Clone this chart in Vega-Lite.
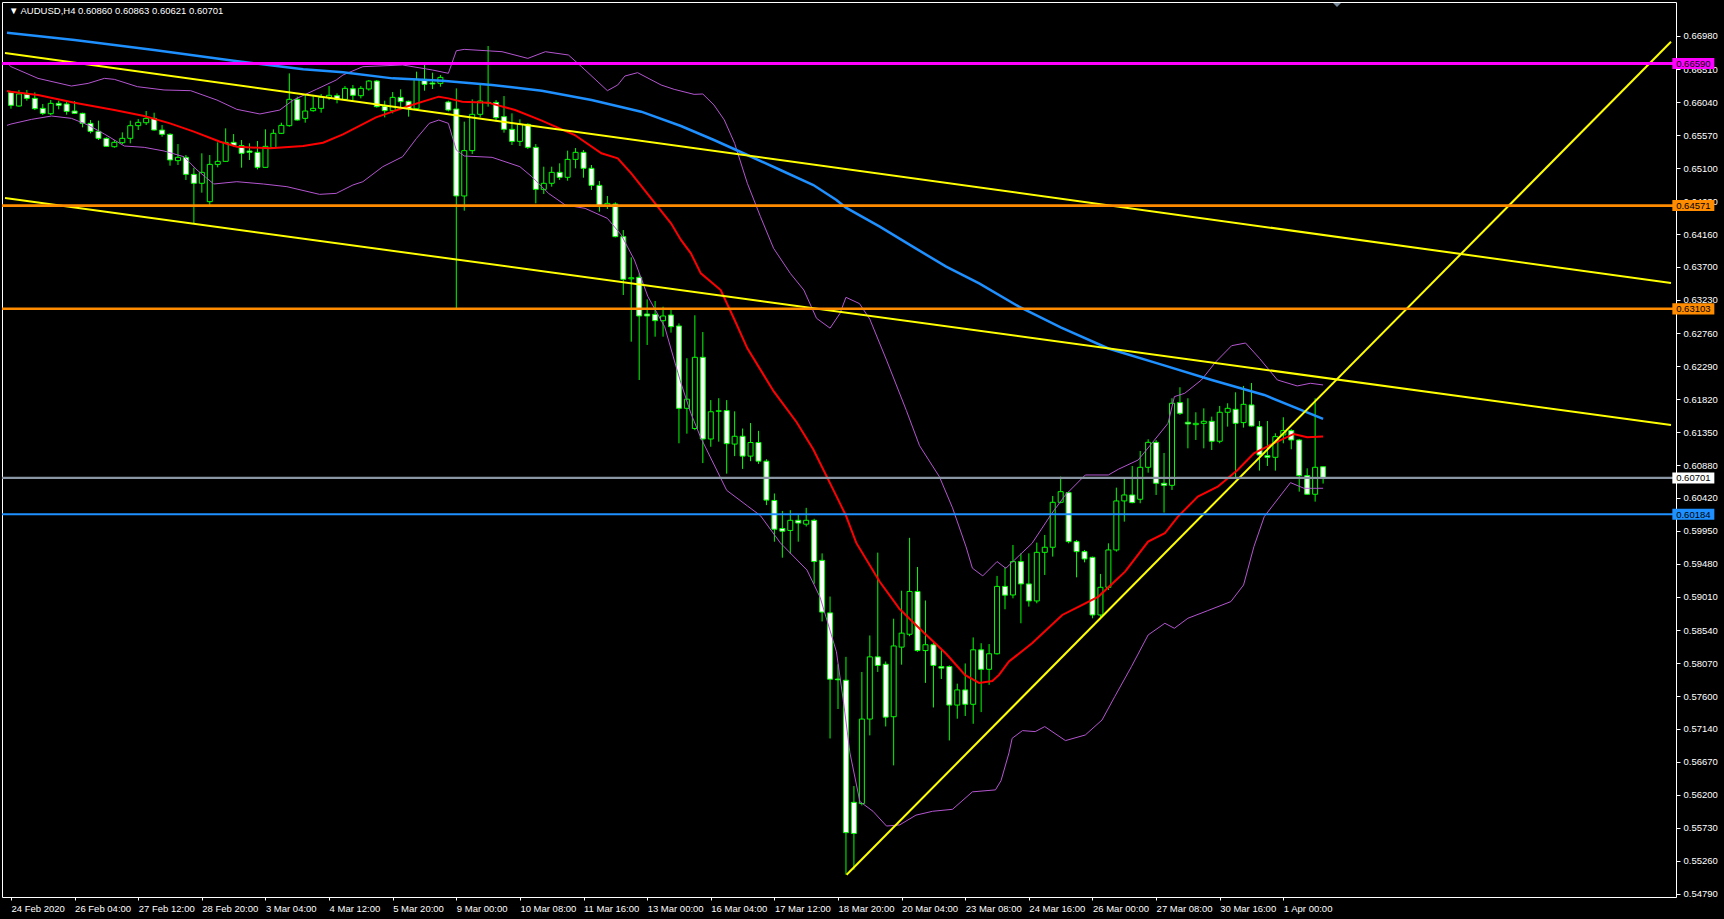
{
"$schema": "https://vega.github.io/schema/vega-lite/v6.json",
"width": 1674, "height": 895,
"autosize": {"type": "none"},
"padding": {"left": 2, "top": 2, "right": 48, "bottom": 22},
"background": "#000000",
"config": {"view": {"stroke": "#ffffff", "strokeWidth": 1}, "font": "Liberation Sans",
"axis": {"labelOverlap": false, "labelFlush": false, "labelBound": false, "grid": false, "domain": false, "tickColor": "#ffffff", "labelColor": "#ffffff", "labelFont": "Liberation Sans", "labelFontSize": 9.5, "title": null}},
"title": {"text": "▼  AUDUSD,H4  0.60860 0.60863 0.60621 0.60701", "anchor": "start", "frame": "group", "orient": "top", "offset": -13, "dx": 7, "color": "#ffffff", "fontSize": 9.5, "fontWeight": "normal", "font": "Liberation Sans"},
"datasets": {
"candles": [
{"i":0,"o":0.66175,"h":0.66198,"l":0.65947,"c":0.65995},
{"i":1,"o":0.65985,"h":0.66213,"l":0.65976,"c":0.66156},
{"i":2,"o":0.66151,"h":0.66213,"l":0.66061,"c":0.66094},
{"i":3,"o":0.66094,"h":0.66179,"l":0.65928,"c":0.65947},
{"i":4,"o":0.65952,"h":0.66014,"l":0.65857,"c":0.65881},
{"i":5,"o":0.65876,"h":0.6607,"l":0.65857,"c":0.66023},
{"i":6,"o":0.66023,"h":0.66061,"l":0.65938,"c":0.65995},
{"i":7,"o":0.66014,"h":0.66061,"l":0.65862,"c":0.65909},
{"i":8,"o":0.65914,"h":0.66056,"l":0.65872,"c":0.65881},
{"i":9,"o":0.65881,"h":0.6589,"l":0.65682,"c":0.65739},
{"i":10,"o":0.65739,"h":0.65786,"l":0.65597,"c":0.65625},
{"i":11,"o":0.65625,"h":0.65777,"l":0.65502,"c":0.65526},
{"i":12,"o":0.65526,"h":0.6554,"l":0.65407,"c":0.65412},
{"i":13,"o":0.65407,"h":0.65502,"l":0.65393,"c":0.65469},
{"i":14,"o":0.65464,"h":0.65611,"l":0.65445,"c":0.65526},
{"i":15,"o":0.65526,"h":0.65777,"l":0.65455,"c":0.65706},
{"i":16,"o":0.65706,"h":0.658,"l":0.65644,"c":0.65753},
{"i":17,"o":0.65748,"h":0.65914,"l":0.65715,"c":0.6581},
{"i":18,"o":0.6581,"h":0.6589,"l":0.65635,"c":0.65644},
{"i":19,"o":0.65644,"h":0.65715,"l":0.65549,"c":0.65583},
{"i":20,"o":0.65583,"h":0.65597,"l":0.65137,"c":0.65218},
{"i":21,"o":0.65209,"h":0.65445,"l":0.65147,"c":0.65256},
{"i":22,"o":0.65256,"h":0.65289,"l":0.64934,"c":0.65014},
{"i":23,"o":0.65014,"h":0.65109,"l":0.64318,"c":0.64887},
{"i":24,"o":0.64887,"h":0.65313,"l":0.64754,"c":0.65043},
{"i":25,"o":0.64626,"h":0.65289,"l":0.64579,"c":0.65156},
{"i":26,"o":0.65156,"h":0.65469,"l":0.65114,"c":0.65199},
{"i":27,"o":0.65199,"h":0.65668,"l":0.65194,"c":0.65469},
{"i":28,"o":0.65469,"h":0.65587,"l":0.65407,"c":0.65426},
{"i":29,"o":0.65422,"h":0.65502,"l":0.65109,"c":0.65313},
{"i":30,"o":0.65346,"h":0.65455,"l":0.65218,"c":0.65327},
{"i":31,"o":0.65327,"h":0.65488,"l":0.65085,"c":0.65114},
{"i":32,"o":0.65114,"h":0.65654,"l":0.65109,"c":0.65412},
{"i":33,"o":0.65393,"h":0.65654,"l":0.65384,"c":0.65597},
{"i":34,"o":0.65597,"h":0.65748,"l":0.65587,"c":0.6571},
{"i":35,"o":0.65706,"h":0.66449,"l":0.65692,"c":0.6608},
{"i":36,"o":0.6608,"h":0.66118,"l":0.65777,"c":0.65786},
{"i":37,"o":0.6581,"h":0.66156,"l":0.65748,"c":0.65914},
{"i":38,"o":0.65919,"h":0.66142,"l":0.65905,"c":0.65952},
{"i":39,"o":0.65952,"h":0.66156,"l":0.6589,"c":0.66108},
{"i":40,"o":0.66108,"h":0.66269,"l":0.6607,"c":0.66137},
{"i":41,"o":0.66132,"h":0.66165,"l":0.66023,"c":0.6608},
{"i":42,"o":0.6608,"h":0.66269,"l":0.6607,"c":0.66236},
{"i":43,"o":0.66231,"h":0.66284,"l":0.6607,"c":0.66137},
{"i":44,"o":0.66132,"h":0.66269,"l":0.66094,"c":0.66236},
{"i":45,"o":0.66227,"h":0.66355,"l":0.66203,"c":0.6634},
{"i":46,"o":0.6634,"h":0.66355,"l":0.65962,"c":0.65976},
{"i":47,"o":0.6598,"h":0.66061,"l":0.65824,"c":0.65919},
{"i":48,"o":0.65919,"h":0.66184,"l":0.65881,"c":0.66108},
{"i":49,"o":0.66108,"h":0.66222,"l":0.65966,"c":0.66047},
{"i":50,"o":0.66052,"h":0.66061,"l":0.65834,"c":0.65947},
{"i":51,"o":0.65947,"h":0.66473,"l":0.65938,"c":0.66364},
{"i":52,"o":0.66364,"h":0.66568,"l":0.66203,"c":0.66293},
{"i":53,"o":0.66312,"h":0.66459,"l":0.66227,"c":0.66298},
{"i":54,"o":0.66307,"h":0.66426,"l":0.6626,"c":0.66392},
{"i":55,"o":0.66042,"h":0.66061,"l":0.65909,"c":0.65928},
{"i":56,"o":0.65943,"h":0.66236,"l":0.63101,"c":0.64707},
{"i":57,"o":0.64707,"h":0.65763,"l":0.64498,"c":0.65351},
{"i":58,"o":0.65351,"h":0.6608,"l":0.65303,"c":0.65867},
{"i":59,"o":0.65867,"h":0.66307,"l":0.65824,"c":0.66056},
{"i":60,"o":0.66037,"h":0.66838,"l":0.65976,"c":0.66028},
{"i":61,"o":0.66037,"h":0.6607,"l":0.65763,"c":0.65819},
{"i":62,"o":0.65834,"h":0.66127,"l":0.65606,"c":0.65654},
{"i":63,"o":0.65654,"h":0.65881,"l":0.65431,"c":0.65483},
{"i":64,"o":0.65483,"h":0.65796,"l":0.65417,"c":0.65725},
{"i":65,"o":0.65725,"h":0.65739,"l":0.65374,"c":0.65398},
{"i":66,"o":0.65398,"h":0.65445,"l":0.64602,"c":0.64801},
{"i":67,"o":0.64801,"h":0.65123,"l":0.64735,"c":0.64887},
{"i":68,"o":0.64887,"h":0.65123,"l":0.64839,"c":0.65043},
{"i":69,"o":0.65043,"h":0.65171,"l":0.64934,"c":0.64972},
{"i":70,"o":0.64972,"h":0.65351,"l":0.64924,"c":0.65227},
{"i":71,"o":0.65227,"h":0.65388,"l":0.651,"c":0.65327},
{"i":72,"o":0.65327,"h":0.6536,"l":0.64967,"c":0.651},
{"i":73,"o":0.651,"h":0.65147,"l":0.64792,"c":0.64858},
{"i":74,"o":0.64858,"h":0.6492,"l":0.64484,"c":0.64569},
{"i":75,"o":0.64569,"h":0.64707,"l":0.64522,"c":0.64602},
{"i":76,"o":0.64593,"h":0.64616,"l":0.64119,"c":0.64129},
{"i":77,"o":0.64129,"h":0.64223,"l":0.633,"c":0.63523},
{"i":78,"o":0.6353,"h":0.63835,"l":0.62637,"c":0.63545},
{"i":79,"o":0.63551,"h":0.63608,"l":0.62092,"c":0.63002},
{"i":80,"o":0.6303,"h":0.63238,"l":0.6259,"c":0.63002},
{"i":81,"o":0.63025,"h":0.63215,"l":0.62708,"c":0.62935},
{"i":82,"o":0.62935,"h":0.63134,"l":0.62708,"c":0.63002},
{"i":83,"o":0.63016,"h":0.63111,"l":0.62765,"c":0.6285},
{"i":84,"o":0.6286,"h":0.62897,"l":0.61193,"c":0.6169},
{"i":85,"o":0.6169,"h":0.62402,"l":0.6133,"c":0.6182},
{"i":86,"o":0.61403,"h":0.63012,"l":0.6138,"c":0.62415},
{"i":87,"o":0.62415,"h":0.62774,"l":0.60912,"c":0.61254},
{"i":88,"o":0.61254,"h":0.61807,"l":0.61144,"c":0.61641},
{"i":89,"o":0.61648,"h":0.61834,"l":0.61216,"c":0.61655},
{"i":90,"o":0.61658,"h":0.61807,"l":0.60762,"c":0.61188},
{"i":91,"o":0.61182,"h":0.61647,"l":0.61011,"c":0.61293},
{"i":92,"o":0.61293,"h":0.61403,"l":0.60829,"c":0.61011},
{"i":93,"o":0.61011,"h":0.61481,"l":0.60939,"c":0.61204},
{"i":94,"o":0.61204,"h":0.6137,"l":0.609,"c":0.60939},
{"i":95,"o":0.60939,"h":0.60967,"l":0.60315,"c":0.60386},
{"i":96,"o":0.60381,"h":0.6048,"l":0.59795,"c":0.59972},
{"i":97,"o":0.59983,"h":0.60232,"l":0.59568,"c":0.59944},
{"i":98,"o":0.59955,"h":0.60243,"l":0.59624,"c":0.60099},
{"i":99,"o":0.60099,"h":0.60176,"l":0.59795,"c":0.6006},
{"i":100,"o":0.60044,"h":0.60276,"l":0.60011,"c":0.60099},
{"i":101,"o":0.60099,"h":0.60121,"l":0.59198,"c":0.59513},
{"i":102,"o":0.5953,"h":0.59629,"l":0.58662,"c":0.58795},
{"i":103,"o":0.58784,"h":0.59016,"l":0.56999,"c":0.57841},
{"i":104,"o":0.57844,"h":0.58054,"l":0.57418,"c":0.57833},
{"i":105,"o":0.57827,"h":0.58159,"l":0.55064,"c":0.55661},
{"i":106,"o":0.56092,"h":0.56324,"l":0.55136,"c":0.5565},
{"i":107,"o":0.56075,"h":0.57944,"l":0.56048,"c":0.57275},
{"i":108,"o":0.57275,"h":0.58463,"l":0.57043,"c":0.58159},
{"i":109,"o":0.58159,"h":0.5964,"l":0.57944,"c":0.58037},
{"i":110,"o":0.58054,"h":0.58093,"l":0.5717,"c":0.57302},
{"i":111,"o":0.57308,"h":0.58701,"l":0.56617,"c":0.58314},
{"i":112,"o":0.58297,"h":0.59099,"l":0.58048,"c":0.58496},
{"i":113,"o":0.5848,"h":0.5985,"l":0.58452,"c":0.59088},
{"i":114,"o":0.59088,"h":0.59436,"l":0.58231,"c":0.58248},
{"i":115,"o":0.58248,"h":0.5896,"l":0.57789,"c":0.58331},
{"i":116,"o":0.58331,"h":0.58369,"l":0.5744,"c":0.58037},
{"i":117,"o":0.58021,"h":0.58259,"l":0.57844,"c":0.57999},
{"i":118,"o":0.58021,"h":0.58037,"l":0.56971,"c":0.57474},
{"i":119,"o":0.57474,"h":0.57778,"l":0.5728,"c":0.57689},
{"i":120,"o":0.57689,"h":0.58065,"l":0.57319,"c":0.57485},
{"i":121,"o":0.57485,"h":0.58435,"l":0.57208,"c":0.58259},
{"i":122,"o":0.58259,"h":0.58353,"l":0.57374,"c":0.57982},
{"i":123,"o":0.57982,"h":0.58341,"l":0.57761,"c":0.58203},
{"i":124,"o":0.58203,"h":0.59309,"l":0.58192,"c":0.5916},
{"i":125,"o":0.5916,"h":0.59436,"l":0.58835,"c":0.59035},
{"i":126,"o":0.59038,"h":0.59749,"l":0.58991,"c":0.59512},
{"i":127,"o":0.59512,"h":0.5963,"l":0.58636,"c":0.59195},
{"i":128,"o":0.59195,"h":0.5963,"l":0.58873,"c":0.58953},
{"i":129,"o":0.58953,"h":0.59782,"l":0.5892,"c":0.59644},
{"i":130,"o":0.59644,"h":0.59891,"l":0.59322,"c":0.59716},
{"i":131,"o":0.59716,"h":0.60445,"l":0.59583,"c":0.60355},
{"i":132,"o":0.60355,"h":0.6072,"l":0.60341,"c":0.60506},
{"i":133,"o":0.60492,"h":0.60506,"l":0.59772,"c":0.59796},
{"i":134,"o":0.59796,"h":0.5982,"l":0.59289,"c":0.59654},
{"i":135,"o":0.59654,"h":0.59678,"l":0.59502,"c":0.5955},
{"i":136,"o":0.59573,"h":0.59583,"l":0.58707,"c":0.58754},
{"i":137,"o":0.58754,"h":0.59337,"l":0.58721,"c":0.59147},
{"i":138,"o":0.59147,"h":0.59772,"l":0.59109,"c":0.59678},
{"i":139,"o":0.59678,"h":0.60563,"l":0.59654,"c":0.60374},
{"i":140,"o":0.60374,"h":0.60696,"l":0.6008,"c":0.60459},
{"i":141,"o":0.60459,"h":0.60871,"l":0.60341,"c":0.6035},
{"i":142,"o":0.60398,"h":0.61084,"l":0.60341,"c":0.60852},
{"i":143,"o":0.60852,"h":0.6125,"l":0.60776,"c":0.61207},
{"i":144,"o":0.61207,"h":0.6124,"l":0.60459,"c":0.60625},
{"i":145,"o":0.60625,"h":0.61056,"l":0.60208,"c":0.60596},
{"i":146,"o":0.60596,"h":0.61833,"l":0.6053,"c":0.61762},
{"i":147,"o":0.61771,"h":0.61989,"l":0.61596,"c":0.61619},
{"i":148,"o":0.61492,"h":0.61833,"l":0.61122,"c":0.61468},
{"i":149,"o":0.61458,"h":0.61634,"l":0.6124,"c":0.61477},
{"i":150,"o":0.61477,"h":0.6169,"l":0.61122,"c":0.61506},
{"i":151,"o":0.61506,"h":0.61572,"l":0.61098,"c":0.61222},
{"i":152,"o":0.61222,"h":0.61724,"l":0.61193,"c":0.61634},
{"i":153,"o":0.61634,"h":0.61762,"l":0.6143,"c":0.6169},
{"i":154,"o":0.61676,"h":0.61918,"l":0.60696,"c":0.61477},
{"i":155,"o":0.61487,"h":0.62008,"l":0.61416,"c":0.61747},
{"i":156,"o":0.61738,"h":0.6205,"l":0.6143,"c":0.61439},
{"i":157,"o":0.6143,"h":0.6151,"l":0.60805,"c":0.61027},
{"i":158,"o":0.61018,"h":0.6151,"l":0.60871,"c":0.60994},
{"i":159,"o":0.60994,"h":0.61335,"l":0.60805,"c":0.61288},
{"i":160,"o":0.61312,"h":0.61563,"l":0.61193,"c":0.61373},
{"i":161,"o":0.61373,"h":0.61392,"l":0.61108,"c":0.6124},
{"i":162,"o":0.6124,"h":0.61255,"l":0.60506,"c":0.60734},
{"i":163,"o":0.60734,"h":0.60838,"l":0.60459,"c":0.60469},
{"i":164,"o":0.60469,"h":0.61833,"l":0.60364,"c":0.60852},
{"i":165,"o":0.6086,"h":0.60863,"l":0.60621,"c":0.60701}
],
"ind": [
{"s":"ma20","i":-0.5,"p":0.662},{"s":"ma20","i":0,"p":0.66189},{"s":"ma20","i":3.4,"p":0.66142},{"s":"ma20","i":8,"p":0.66033},{"s":"ma20","i":13,"p":0.65928},{"s":"ma20","i":16.75,"p":0.65843},{"s":"ma20","i":20,"p":0.65739},{"s":"ma20","i":23,"p":0.65621},{"s":"ma20","i":26.3,"p":0.65478},{"s":"ma20","i":28.4,"p":0.65407},{"s":"ma20","i":32.6,"p":0.65384},{"s":"ma20","i":36.75,"p":0.65417},{"s":"ma20","i":39.25,"p":0.65464},{"s":"ma20","i":41.75,"p":0.65583},{"s":"ma20","i":45.9,"p":0.65824},{"s":"ma20","i":50,"p":0.65985},{"s":"ma20","i":53.8,"p":0.66118},{"s":"ma20","i":55,"p":0.66094},{"s":"ma20","i":56.75,"p":0.66047},{"s":"ma20","i":60,"p":0.66033},{"s":"ma20","i":63.4,"p":0.65928},{"s":"ma20","i":66.75,"p":0.65777},{"s":"ma20","i":70.9,"p":0.65573},{"s":"ma20","i":74.25,"p":0.65313},{"s":"ma20","i":76.3,"p":0.65242},{"s":"ma20","i":78,"p":0.65029},{"s":"ma20","i":81,"p":0.64602},{"s":"ma20","i":83,"p":0.64318},{"s":"ma20","i":84.25,"p":0.64082},{"s":"ma20","i":85.5,"p":0.63892},{"s":"ma20","i":86.75,"p":0.63608},{"s":"ma20","i":89.25,"p":0.63371},{"s":"ma20","i":91,"p":0.62945},{"s":"ma20","i":92.6,"p":0.62542},{"s":"ma20","i":95.9,"p":0.61934},{"s":"ma20","i":98.8,"p":0.61492},{"s":"ma20","i":100.9,"p":0.61105},{"s":"ma20","i":103.8,"p":0.60442},{"s":"ma20","i":105,"p":0.60165},{"s":"ma20","i":106.3,"p":0.59778},{"s":"ma20","i":109.25,"p":0.59226},{"s":"ma20","i":111.75,"p":0.58839},{"s":"ma20","i":114.25,"p":0.58563},{"s":"ma20","i":117.6,"p":0.58203},{"s":"ma20","i":120,"p":0.57899},{"s":"ma20","i":121.75,"p":0.57789},{"s":"ma20","i":123.4,"p":0.57816},{"s":"ma20","i":124.25,"p":0.57902},{"s":"ma20","i":125.5,"p":0.58093},{"s":"ma20","i":128.4,"p":0.58352},{"s":"ma20","i":132.2,"p":0.58754},{"s":"ma20","i":135.1,"p":0.5892},{"s":"ma20","i":136.75,"p":0.59015},{"s":"ma20","i":140.1,"p":0.5937},{"s":"ma20","i":143,"p":0.59796},{"s":"ma20","i":145.1,"p":0.59915},{"s":"ma20","i":146.75,"p":0.60151},{"s":"ma20","i":149.25,"p":0.60435},{"s":"ma20","i":151.75,"p":0.60577},{"s":"ma20","i":154.25,"p":0.60814},{"s":"ma20","i":156.3,"p":0.61051},{"s":"ma20","i":158.8,"p":0.61193},{"s":"ma20","i":161.3,"p":0.61326},{"s":"ma20","i":163,"p":0.61278},{"s":"ma20","i":165,"p":0.61288},
{"s":"ma100","i":-0.5,"p":0.67025},{"s":"ma100","i":8,"p":0.66923},{"s":"ma100","i":18,"p":0.66781},{"s":"ma100","i":28,"p":0.66629},{"s":"ma100","i":36.75,"p":0.66506},{"s":"ma100","i":41.75,"p":0.66464},{"s":"ma100","i":48,"p":0.66378},{"s":"ma100","i":54.25,"p":0.66345},{"s":"ma100","i":60.5,"p":0.66284},{"s":"ma100","i":66.75,"p":0.66203},{"s":"ma100","i":73,"p":0.6607},{"s":"ma100","i":79.25,"p":0.65905},{"s":"ma100","i":84.25,"p":0.65701},{"s":"ma100","i":88.4,"p":0.65502},{"s":"ma100","i":92.6,"p":0.65289},{"s":"ma100","i":96.75,"p":0.65076},{"s":"ma100","i":100.9,"p":0.64863},{"s":"ma100","i":103.8,"p":0.6465},{"s":"ma100","i":105,"p":0.64541},{"s":"ma100","i":109.25,"p":0.64271},{"s":"ma100","i":113.4,"p":0.63987},{"s":"ma100","i":117.6,"p":0.63703},{"s":"ma100","i":121.75,"p":0.63466},{"s":"ma100","i":126.75,"p":0.63134},{"s":"ma100","i":132,"p":0.6284},{"s":"ma100","i":138,"p":0.6254},{"s":"ma100","i":145,"p":0.623},{"s":"ma100","i":151,"p":0.62093},{"s":"ma100","i":157.6,"p":0.6188},{"s":"ma100","i":165,"p":0.61539},
{"s":"bbu","i":-0.5,"p":0.666},{"s":"bbu","i":0,"p":0.66544},{"s":"bbu","i":3.4,"p":0.66378},{"s":"bbu","i":7.6,"p":0.66269},{"s":"bbu","i":9.7,"p":0.66307},{"s":"bbu","i":11.75,"p":0.66378},{"s":"bbu","i":13,"p":0.66364},{"s":"bbu","i":15.9,"p":0.6626},{"s":"bbu","i":19.25,"p":0.66213},{"s":"bbu","i":22.6,"p":0.66203},{"s":"bbu","i":25.9,"p":0.6607},{"s":"bbu","i":28.4,"p":0.65938},{"s":"bbu","i":31.3,"p":0.65872},{"s":"bbu","i":33.8,"p":0.65928},{"s":"bbu","i":35.5,"p":0.6607},{"s":"bbu","i":38.4,"p":0.66222},{"s":"bbu","i":40.9,"p":0.66355},{"s":"bbu","i":41.75,"p":0.66426},{"s":"bbu","i":44.25,"p":0.66544},{"s":"bbu","i":49.25,"p":0.66568},{"s":"bbu","i":53,"p":0.66497},{"s":"bbu","i":55,"p":0.6645},{"s":"bbu","i":56,"p":0.6677},{"s":"bbu","i":57,"p":0.6679},{"s":"bbu","i":61.75,"p":0.66757},{"s":"bbu","i":65,"p":0.66662},{"s":"bbu","i":67.2,"p":0.66757},{"s":"bbu","i":70.1,"p":0.6671},{"s":"bbu","i":71.75,"p":0.66544},{"s":"bbu","i":75,"p":0.66203},{"s":"bbu","i":76.3,"p":0.66284},{"s":"bbu","i":77.2,"p":0.66411},{"s":"bbu","i":78.8,"p":0.66459},{"s":"bbu","i":81.75,"p":0.66284},{"s":"bbu","i":83.4,"p":0.66222},{"s":"bbu","i":85.9,"p":0.66151},{"s":"bbu","i":87,"p":0.66156},{"s":"bbu","i":88.4,"p":0.66},{"s":"bbu","i":89.7,"p":0.65787},{"s":"bbu","i":91,"p":0.65455},{"s":"bbu","i":92.6,"p":0.64887},{"s":"bbu","i":94.25,"p":0.64413},{"s":"bbu","i":95.9,"p":0.63963},{"s":"bbu","i":98,"p":0.63608},{"s":"bbu","i":99.7,"p":0.63371},{"s":"bbu","i":101.3,"p":0.62969},{"s":"bbu","i":103,"p":0.62829},{"s":"bbu","i":104.25,"p":0.63039},{"s":"bbu","i":105,"p":0.63267},{"s":"bbu","i":106.7,"p":0.63178},{"s":"bbu","i":108,"p":0.62956},{"s":"bbu","i":110.1,"p":0.62376},{"s":"bbu","i":112.6,"p":0.61658},{"s":"bbu","i":114.25,"p":0.6116},{"s":"bbu","i":116.75,"p":0.60718},{"s":"bbu","i":118.4,"p":0.60276},{"s":"bbu","i":120.1,"p":0.59723},{"s":"bbu","i":120.9,"p":0.59419},{"s":"bbu","i":122.2,"p":0.59309},{"s":"bbu","i":124,"p":0.59513},{"s":"bbu","i":125.1,"p":0.59417},{"s":"bbu","i":128.4,"p":0.59772},{"s":"bbu","i":130.9,"p":0.60199},{"s":"bbu","i":132.6,"p":0.60459},{"s":"bbu","i":135.1,"p":0.60743},{"s":"bbu","i":138,"p":0.60743},{"s":"bbu","i":139.25,"p":0.60824},{"s":"bbu","i":141.75,"p":0.60956},{"s":"bbu","i":143.8,"p":0.6124},{"s":"bbu","i":145.5,"p":0.61477},{"s":"bbu","i":146.3,"p":0.61856},{"s":"bbu","i":147.6,"p":0.61904},{"s":"bbu","i":149.7,"p":0.62093},{"s":"bbu","i":151.5,"p":0.6235},{"s":"bbu","i":153.5,"p":0.6258},{"s":"bbu","i":155.25,"p":0.62618},{"s":"bbu","i":157,"p":0.624},{"s":"bbu","i":159.25,"p":0.62093},{"s":"bbu","i":161.75,"p":0.62008},{"s":"bbu","i":163.4,"p":0.62046},{"s":"bbu","i":165,"p":0.62022},
{"s":"bbl","i":-0.5,"p":0.6571},{"s":"bbl","i":0,"p":0.65729},{"s":"bbl","i":2.6,"p":0.65796},{"s":"bbl","i":5.1,"p":0.65843},{"s":"bbl","i":7.6,"p":0.6581},{"s":"bbl","i":9.7,"p":0.65715},{"s":"bbl","i":11.75,"p":0.65587},{"s":"bbl","i":14.25,"p":0.65417},{"s":"bbl","i":16.75,"p":0.65398},{"s":"bbl","i":19.25,"p":0.65346},{"s":"bbl","i":21.75,"p":0.65265},{"s":"bbl","i":23.4,"p":0.65076},{"s":"bbl","i":25.5,"p":0.64877},{"s":"bbl","i":28.4,"p":0.6491},{"s":"bbl","i":31.75,"p":0.64877},{"s":"bbl","i":34.7,"p":0.64839},{"s":"bbl","i":38.8,"p":0.6473},{"s":"bbl","i":40.9,"p":0.64744},{"s":"bbl","i":43,"p":0.64863},{"s":"bbl","i":44.25,"p":0.6491},{"s":"bbl","i":46.75,"p":0.65123},{"s":"bbl","i":49.25,"p":0.65265},{"s":"bbl","i":51,"p":0.65526},{"s":"bbl","i":52.6,"p":0.65739},{"s":"bbl","i":53.8,"p":0.65786},{"s":"bbl","i":55,"p":0.65739},{"s":"bbl","i":56,"p":0.6536},{"s":"bbl","i":57,"p":0.65275},{"s":"bbl","i":60.5,"p":0.65256},{"s":"bbl","i":64,"p":0.65123},{"s":"bbl","i":65.5,"p":0.64981},{"s":"bbl","i":67.6,"p":0.64744},{"s":"bbl","i":69.7,"p":0.64579},{"s":"bbl","i":72.2,"p":0.64531},{"s":"bbl","i":75,"p":0.64389},{"s":"bbl","i":76.75,"p":0.64152},{"s":"bbl","i":78.4,"p":0.63797},{"s":"bbl","i":80.1,"p":0.63276},{"s":"bbl","i":82.2,"p":0.6285},{"s":"bbl","i":83.4,"p":0.62376},{"s":"bbl","i":84.25,"p":0.6205},{"s":"bbl","i":85.5,"p":0.61619},{"s":"bbl","i":86.75,"p":0.61271},{"s":"bbl","i":90,"p":0.60525},{"s":"bbl","i":92.6,"p":0.60304},{"s":"bbl","i":94.25,"p":0.60165},{"s":"bbl","i":96.75,"p":0.59778},{"s":"bbl","i":100.1,"p":0.59392},{"s":"bbl","i":101.75,"p":0.59005},{"s":"bbl","i":103.8,"p":0.58231},{"s":"bbl","i":104.7,"p":0.57512},{"s":"bbl","i":105.5,"p":0.56794},{"s":"bbl","i":106.75,"p":0.56103},{"s":"bbl","i":108.4,"p":0.55965},{"s":"bbl","i":110.1,"p":0.55755},{"s":"bbl","i":111.75,"p":0.55771},{"s":"bbl","i":113.8,"p":0.5591},{"s":"bbl","i":115.9,"p":0.55965},{"s":"bbl","i":118.4,"p":0.55993},{"s":"bbl","i":120.9,"p":0.56241},{"s":"bbl","i":123.8,"p":0.56269},{"s":"bbl","i":124.5,"p":0.564},{"s":"bbl","i":125.5,"p":0.56794},{"s":"bbl","i":125.9,"p":0.57002},{"s":"bbl","i":127.2,"p":0.57111},{"s":"bbl","i":128.8,"p":0.57097},{"s":"bbl","i":130,"p":0.57168},{"s":"bbl","i":132.6,"p":0.56969},{"s":"bbl","i":135.1,"p":0.57049},{"s":"bbl","i":137.2,"p":0.57262},{"s":"bbl","i":138.8,"p":0.57594},{"s":"bbl","i":140.9,"p":0.5802},{"s":"bbl","i":143,"p":0.5847},{"s":"bbl","i":145.1,"p":0.58636},{"s":"bbl","i":146.3,"p":0.58565},{"s":"bbl","i":148,"p":0.58707},{"s":"bbl","i":150.5,"p":0.58816},{"s":"bbl","i":153.4,"p":0.58944},{"s":"bbl","i":155,"p":0.5918},{"s":"bbl","i":156.3,"p":0.59725},{"s":"bbl","i":157.6,"p":0.60151},{"s":"bbl","i":159.7,"p":0.60459},{"s":"bbl","i":160.9,"p":0.60634},{"s":"bbl","i":162.6,"p":0.60554},{"s":"bbl","i":165,"p":0.60554}
],
"trend": [
{"id":"ch1","i":-0.75,"p":0.66738},{"id":"ch1","i":208.75,"p":0.63471},
{"id":"ch2","i":-0.75,"p":0.64678},{"id":"ch2","i":208.75,"p":0.61453},
{"id":"up","i":105.08,"p":0.55064},{"id":"up","i":208.75,"p":0.66899}
],
"levels": [
{"kind":"r1","p":0.6659,"label":"0.66590"},
{"kind":"r2","p":0.64571,"label":"0.64571"},
{"kind":"r3","p":0.63103,"label":"0.63103"},
{"kind":"bid","p":0.60701,"label":"0.60701"},
{"kind":"s1","p":0.60184,"label":"0.60184"}
],
"marker": [{"name":"shift","i":166.75,"p":0.6742}]
},
"layer": [
{
"data": {"name": "candles"},
"mark": {"type": "rule", "color": "#00ff00", "strokeWidth": 1, "clip": true},
"encoding": {
"x": {"field": "i", "type": "quantitative", "title": null, "scale": {"domain": [-0.5, 208.75], "nice": false, "zero": false},
"axis": {"orient": "bottom", "title": null, "values": [0,8,16,24,32,40,48,56,64,72,80,88,96,104,112,120,128,136,144,152,160], "tickCount": 60,
"labelExpr": "['24 Feb 2020','26 Feb 04:00','27 Feb 12:00','28 Feb 20:00','3 Mar 04:00','4 Mar 12:00','5 Mar 20:00','9 Mar 00:00','10 Mar 08:00','11 Mar 16:00','13 Mar 00:00','16 Mar 04:00','17 Mar 12:00','18 Mar 20:00','20 Mar 04:00','23 Mar 08:00','24 Mar 16:00','26 Mar 00:00','27 Mar 08:00','30 Mar 16:00','1 Apr 00:00'][round(datum.value/8)]",
"tickSize": 3, "labelAlign": "left", "labelBaseline": "top", "labelPadding": 3, "labelOverlap": false}},
"y": {"field": "l", "type": "quantitative", "title": null, "scale": {"domain": [0.54747, 0.67463], "nice": false, "zero": false},
"axis": {"orient": "right", "title": null, "format": ".5f", "tickCount": 60,
"values": [0.6698,0.6651,0.6604,0.6557,0.651,0.6463,0.6416,0.637,0.6323,0.6276,0.6229,0.6182,0.6135,0.6088,0.6042,0.5995,0.5948,0.5901,0.5854,0.5807,0.576,0.5714,0.5667,0.562,0.5573,0.5526,0.5479],
"tickSize": 4, "labelPadding": 3, "labelBaseline": "middle", "labelOverlap": false}},
"y2": {"field": "h"}
}
},
{
"data": {"name": "candles"},
"mark": {"type": "bar", "width": 5, "stroke": "#00ff00", "strokeWidth": 1, "clip": true},
"encoding": {
"x": {"field": "i", "type": "quantitative", "title": null},
"y": {"field": "o", "type": "quantitative", "title": null, "axis": {"orient": "right"}},
"y2": {"field": "c"},
"fill": {"condition": {"test": "datum.c < datum.o", "value": "#ffffff"}, "value": "#000000"}
}
},
{
"data": {"name": "ind"},
"transform": [{"filter": "datum.s == 'bbu' || datum.s == 'bbl'"}],
"mark": {"type": "line", "color": "#b455d0", "strokeWidth": 1, "clip": true},
"encoding": {
"x": {"field": "i", "type": "quantitative", "title": null},
"y": {"field": "p", "type": "quantitative", "title": null, "axis": {"orient": "right"}},
"detail": {"field": "s"}
}
},
{
"data": {"name": "ind"},
"transform": [{"filter": "datum.s == 'ma20'"}],
"mark": {"type": "line", "color": "#ff0000", "strokeWidth": 2, "clip": true},
"encoding": {
"x": {"field": "i", "type": "quantitative", "title": null},
"y": {"field": "p", "type": "quantitative", "title": null, "axis": {"orient": "right"}}
}
},
{
"data": {"name": "ind"},
"transform": [{"filter": "datum.s == 'ma100'"}],
"mark": {"type": "line", "color": "#1e90ff", "strokeWidth": 2.5, "clip": true},
"encoding": {
"x": {"field": "i", "type": "quantitative", "title": null},
"y": {"field": "p", "type": "quantitative", "title": null, "axis": {"orient": "right"}}
}
},
{
"data": {"name": "trend"},
"mark": {"type": "line", "color": "#ffff00", "strokeWidth": 2, "clip": true},
"encoding": {
"x": {"field": "i", "type": "quantitative", "title": null},
"y": {"field": "p", "type": "quantitative", "title": null, "axis": {"orient": "right"}},
"detail": {"field": "id"}
}
},
{
"data": {"name": "levels"},
"mark": {"type": "rule", "clip": true},
"encoding": {
"y": {"field": "p", "type": "quantitative", "title": null, "axis": {"orient": "right"}},
"stroke": {"field": "kind", "type": "nominal", "legend": null, "scale": {"domain": ["r1","r2","r3","bid","s1"], "range": ["#ff00ff","#ff8c00","#ff8c00","#8a96a3","#1e90ff"]}},
"strokeWidth": {"field": "kind", "type": "nominal", "legend": null, "scale": {"domain": ["r1","r2","r3","bid","s1"], "range": [3,2,2,1,3]}}
}
},
{
"data": {"name": "levels"},
"mark": {"type": "point", "filled": true, "opacity": 1, "strokeWidth": 0, "shape": "M-1,-0.262L1,-0.262L1,0.262L-1,0.262Z", "size": 1764},
"encoding": {
"x": {"datum": 211.56, "type": "quantitative", "title": null},
"y": {"field": "p", "type": "quantitative", "title": null, "axis": {"orient": "right"}},
"fill": {"field": "kind", "type": "nominal", "legend": null, "scale": {"domain": ["r1","r2","r3","bid","s1"], "range": ["#ff00ff","#ff8c00","#ff8c00","#ffffff","#1e90ff"]}}
}
},
{
"data": {"name": "levels"},
"mark": {"type": "text", "color": "#000000", "fontSize": 9.5, "font": "Liberation Sans", "align": "center", "baseline": "middle", "dy": 0.5},
"encoding": {
"x": {"datum": 211.56, "type": "quantitative", "title": null},
"y": {"field": "p", "type": "quantitative", "title": null, "axis": {"orient": "right"}},
"text": {"field": "label"}
}
},
{
"data": {"name": "marker"},
"mark": {"type": "point", "filled": true, "opacity": 1, "strokeWidth": 0, "color": "#778899", "shape": "M-1,-0.5L1,-0.5L0,0.5Z", "size": 64},
"encoding": {
"x": {"field": "i", "type": "quantitative", "title": null},
"y": {"field": "p", "type": "quantitative", "title": null, "axis": {"orient": "right"}}
}
}
]
}
